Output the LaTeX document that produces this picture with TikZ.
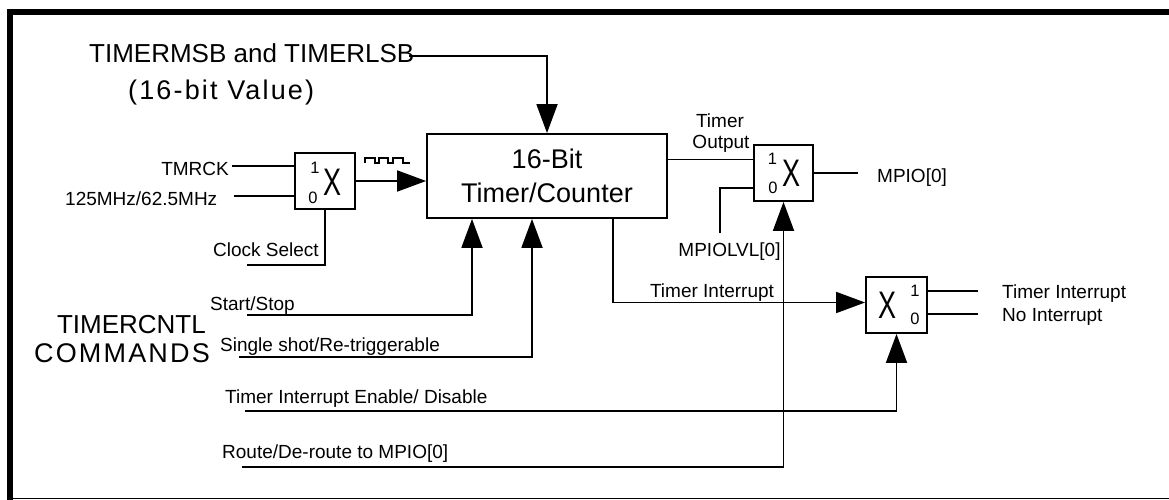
\documentclass[tikz,border=0pt]{standalone}
\usepackage{fontspec}
\setmainfont{Liberation Sans}
\usepackage{graphicx}
\usetikzlibrary{arrows.meta}
\tikzset{
 wire/.style={line width=1.8pt},
 arr/.style={wire,-{Triangle[length=29pt,width=21pt]}},
 muxbox/.style={draw,line width=1.8pt,minimum width=60pt,minimum height=56pt,inner sep=0pt},
 lbl/.style={inner sep=0pt,font=\fontsize{19}{22}\selectfont},
 big/.style={inner sep=0pt,font=\fontsize{26}{30}\selectfont},
 bit/.style={inner sep=0pt,font=\fontsize{16.5}{18}\selectfont},
 xsym/.style={inner sep=0pt,font=\fontsize{27}{30}\selectfont},
}
\begin{document}
\begin{tikzpicture}[x=1pt,y=-1pt]
\useasboundingbox (0,0) rectangle (1169,500);
% frame
\fill (7,9) rectangle (1169,15);
\fill (7,9) rectangle (13,500);
\draw[line width=1.3pt] (13,498.5) -- (1169,498.5);

% main block
\node[draw, line width=1.8pt, minimum width=240pt, minimum height=84pt, inner sep=0pt,
      align=center, font=\fontsize{27}{34}\selectfont] (tc) at (547,176) {16-Bit\\Timer/Counter};

% muxes
\node[muxbox] (m1) at (325,181) {};
\node[bit] (m1a) at ([shift={(-10,-13.5)}]m1.center) {1};
\node[bit] (m1b) at ([shift={(-12,16.5)}]m1.center) {0};
\node[xsym] (m1x) at ([shift={(7.5,1)}]m1.center) {\scalebox{1}[1.42]{X}};

\node[muxbox, minimum width=59pt] (m2) at (783.5,173) {};
\node[bit] (m2a) at ([shift={(-11,-14)}]m2.center) {1};
\node[bit] (m2b) at ([shift={(-10.5,15)}]m2.center) {0};
\node[xsym] (m2x) at ([shift={(8,0.5)}]m2.center) {\scalebox{1}[1.42]{X}};

\node[muxbox, minimum width=61pt] (m3) at (896.5,305) {};
\node[bit] (m3a) at ([shift={(18.5,-14)}]m3.center) {1};
\node[bit] (m3b) at ([shift={(18.5,14)}]m3.center) {0};
\node[xsym] (m3x) at ([shift={(-9.5,0.5)}]m3.center) {\scalebox{1}[1.42]{X}};

% top value
\node[big, anchor=base west] (msb) at (89,63) {TIMERMSB and TIMERLSB};
\node[big, anchor=base west] (val) at (128,100) {\fontsize{27}{30}\selectfont\addfontfeature{LetterSpace=8}(16-bit Value)};
\draw[arr] ([shift={(-5,2)}]msb.east) -| (tc.north);

% clock inputs
\node[lbl, anchor=base east] (tmrck) at (229,175) {TMRCK};
\coordinate (tmrckR) at (232,166);
\draw[wire] (tmrckR) -- (tmrckR -| m1.west);
\node[lbl, anchor=base west] (osc) at (65,205) {125MHz/62.5MHz};
\coordinate (oscR) at (234,196);
\draw[wire] (oscR) -- (oscR -| m1.west);
\coordinate (csL) at (247,265);
\draw[wire] (m1.south) |- (csL);
\node[lbl, anchor=base east] (cs) at (319,256) {Clock Select};
\draw[arr] (m1.east) -- (m1.east -| tc.west);
% square wave
\draw[line width=1.5pt] (365,163) -- ++(0,-5) -- ++(10,0) -- ++(0,5) -- ++(4,0) -- ++(0,-5)
  -- ++(9,0) -- ++(0,5) -- ++(5,0) -- ++(0,-5) -- ++(10,0) -- ++(0,5) -- ++(7,0);

% timer output
\coordinate (toL) at ([yshift=16.5pt]tc.east);
\draw[wire] (toL) -- (toL -| m2.west);
\node[lbl, anchor=base] (tout1) at (720,128) {Timer};
\node[lbl, anchor=base] (tout2) at (721,149) {Output};
\coordinate (mpioR) at (858,173);
\draw[wire] (m2.east) -- (mpioR);
\node[lbl, anchor=base west] (mpio) at (877,182) {MPIO[0]};
\coordinate (lvlB) at (720,233);
\draw[wire] ([yshift=-15pt]m2.west) -| (lvlB);
\node[lbl, anchor=base] (lvl) at (729.5,256) {MPIOLVL[0]};

% timer interrupt
\draw[arr] ([xshift=66pt]tc.south) |- ([yshift=2.5pt]m3.west);
\node[lbl, anchor=base] (tint) at (712,297) {Timer Interrupt};
\coordinate (o1) at (978,291);
\coordinate (o2) at (978,314);
\draw[wire] (o1 -| m3.east) -- (o1);
\draw[wire] (o2 -| m3.east) -- (o2);
\node[lbl, anchor=base west] (oi1) at (1002,298) {Timer Interrupt};
\node[lbl, anchor=base west] (oi2) at (1002,321) {No Interrupt};

% commands
\node[big, anchor=base east] (cntl) at (206,333) {TIMERCNTL};
\node[big, anchor=base east] (cmds) at (210,362) {\fontsize{27}{30}\selectfont\addfontfeature{LetterSpace=8}COMMANDS};
\coordinate (ssL) at (247,315);
\draw[arr] (ssL) -| ([xshift=-75pt]tc.south);
\node[lbl, anchor=base west] (ss) at (210,310) {Start/Stop};
\coordinate (sgL) at (239,357);
\draw[arr] (sgL) -| ([xshift=-15pt]tc.south);
\node[lbl, anchor=base west] (sg) at (220,351) {Single shot/Re-triggerable};
\coordinate (enL) at (245,411);
\draw[arr] (enL) -| (m3.south);
\node[lbl, anchor=base west] (en) at (225,403) {Timer Interrupt Enable/ Disable};
\coordinate (routeL) at (242,467);
\draw[arr] (routeL) -| (m2.south);
\node[lbl, anchor=base west] (route) at (222,458) {Route/De-route to MPIO[0]};
\end{tikzpicture}
\end{document}
